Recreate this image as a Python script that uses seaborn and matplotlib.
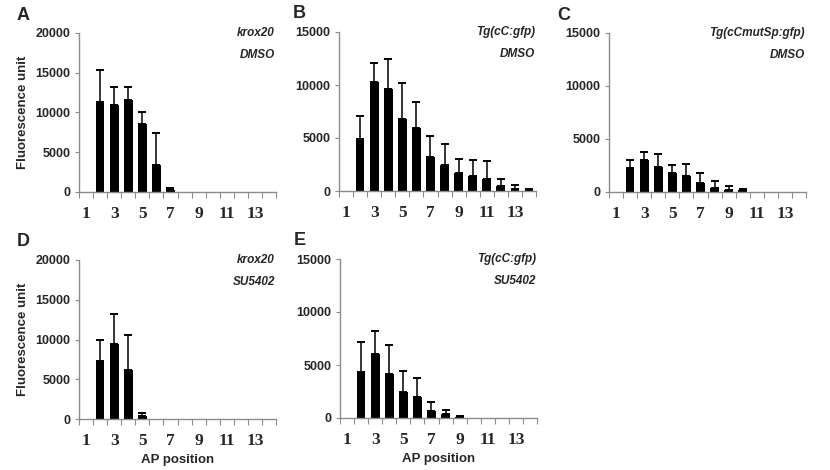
import numpy as np
import matplotlib
matplotlib.use("Agg")
import matplotlib.pyplot as plt
import seaborn as sns

# AP positions along the hindbrain
positions = list(range(1, 15))

# mean fluorescence + error per panel
krox20_dmso = [0, 11300, 10950, 11600, 8550, 3400, 200, 0, 0, 0, 0, 0, 0, 0]
krox20_dmso_err = [0, 4000, 2200, 1650, 1450, 4000, 250, 0, 0, 0, 0, 0, 0, 0]

cc_dmso = [0, 4900, 10250, 9600, 6750, 5900, 3200, 2450, 1700, 1450, 1150, 450, 200, 130]
cc_dmso_err = [0, 2150, 1800, 2850, 3450, 2450, 1950, 2000, 1300, 1500, 1700, 650, 350, 40]

ccmut_dmso = [0, 2250, 3050, 2400, 1750, 1500, 850, 400, 200, 170, 0, 0, 0, 0]
ccmut_dmso_err = [0, 750, 750, 1200, 800, 1150, 900, 600, 350, 70, 0, 0, 0, 0]

krox20_su = [0, 7350, 9400, 6150, 400, 0, 0, 0, 0, 0, 0, 0, 0, 0]
krox20_su_err = [0, 2650, 3850, 4450, 400, 0, 0, 0, 0, 0, 0, 0, 0, 0]

cc_su = [0, 4350, 6050, 4150, 2500, 1950, 700, 350, 120, 0, 0, 0, 0, 0]
cc_su_err = [0, 2800, 2200, 2700, 1950, 1850, 800, 450, 30, 0, 0, 0, 0, 0]

sns.set_style("white")
plt.rcParams['font.family'] = ['Liberation Sans', 'DejaVu Sans']

fig = plt.figure(figsize=(8.3, 4.7), dpi=100)

W = 197 / 830
H = 159 / 470
panels = [
    # letter, rect, means, errs, ymax, line1, line2, ylabel, xlabel
    ("A", [79 / 830, 1 - 192 / 470, W, H], krox20_dmso, krox20_dmso_err, 20000, "krox20", "DMSO", True, False),
    ("B", [339 / 830, 1 - 191 / 470, W, H], cc_dmso, cc_dmso_err, 15000, "Tg(cC:gfp)", "DMSO", False, False),
    ("C", [609 / 830, 1 - 192 / 470, W, H], ccmut_dmso, ccmut_dmso_err, 15000, "Tg(cCmutSp:gfp)", "DMSO", False, False),
    ("D", [79 / 830, 1 - 419 / 470, W, H], krox20_su, krox20_su_err, 20000, "krox20", "SU5402", True, True),
    ("E", [340 / 830, 1 - 418 / 470, W, H], cc_su, cc_su_err, 15000, "Tg(cC:gfp)", "SU5402", False, True),
]

gray = "#8c8c8c"

for letter, rect, means, errs, ymax, l1, l2, ylab, xlab in panels:
    ax = fig.add_axes(rect)
    sns.barplot(x=positions, y=means, color="black", saturation=1, width=0.62,
                errorbar=None, linewidth=0, ax=ax)
    m = np.array(means, dtype=float)
    e = np.array(errs, dtype=float)
    idx = np.nonzero(m > 0)[0]
    # only the upper half of the error bar shows above the black bars
    ax.errorbar(idx, m[idx], yerr=[np.zeros(len(idx)), e[idx]], fmt="none",
                ecolor="black", elinewidth=1.1, capsize=3, capthick=1.4)

    ax.set_xlim(-0.5, 13.5)
    ax.set_ylim(0, ymax)
    ax.set_yticks(np.arange(0, ymax + 1, 5000))
    ax.set_yticklabels([str(v) for v in range(0, ymax + 1, 5000)],
                       fontsize=9, fontweight="bold")

    ax.set_xticks(range(0, 14, 2))
    ax.set_xticklabels([str(p) for p in positions[::2]],
                       family="Liberation Serif", fontsize=12.5, fontweight="bold")
    ax.set_xticks(np.arange(-0.5, 14, 1), minor=True)
    ax.tick_params(axis="x", which="major", length=0, pad=10)
    ax.tick_params(axis="x", which="minor", length=4, width=0.8,
                   color=gray, direction="out", bottom=True)
    ax.tick_params(axis="y", length=3, width=0.8, color=gray,
                   direction="out", left=True, pad=3)

    for side in ["top", "right"]:
        ax.spines[side].set_visible(False)
    for side in ["left", "bottom"]:
        ax.spines[side].set_color(gray)
        ax.spines[side].set_linewidth(1.0)

    ax.text(0.995, 1.0, l1, transform=ax.transAxes, ha="right", va="center",
            fontsize=8.5, fontweight="bold", style="italic")
    ax.text(0.995, 0.86, l2, transform=ax.transAxes, ha="right", va="center",
            fontsize=8.5, fontweight="bold", style="italic")

    if ylab:
        ax.set_ylabel("Fluorescence unit", fontsize=9.5, fontweight="bold", labelpad=5)
    if xlab:
        ax.set_xlabel("AP position", fontsize=9.5, fontweight="bold", labelpad=4)

    # panel letter
    x0 = rect[0] - 62 / 830 if letter in "AD" else rect[0] - 46 / 830
    if letter == "C":
        x0 = rect[0] - 52 / 830
    ax.text(x0, rect[1] + rect[3] + 18 / 470, letter, transform=fig.transFigure,
            fontsize=13, fontweight="bold", ha="left", va="center")

fig.savefig("out.png", dpi=100)
